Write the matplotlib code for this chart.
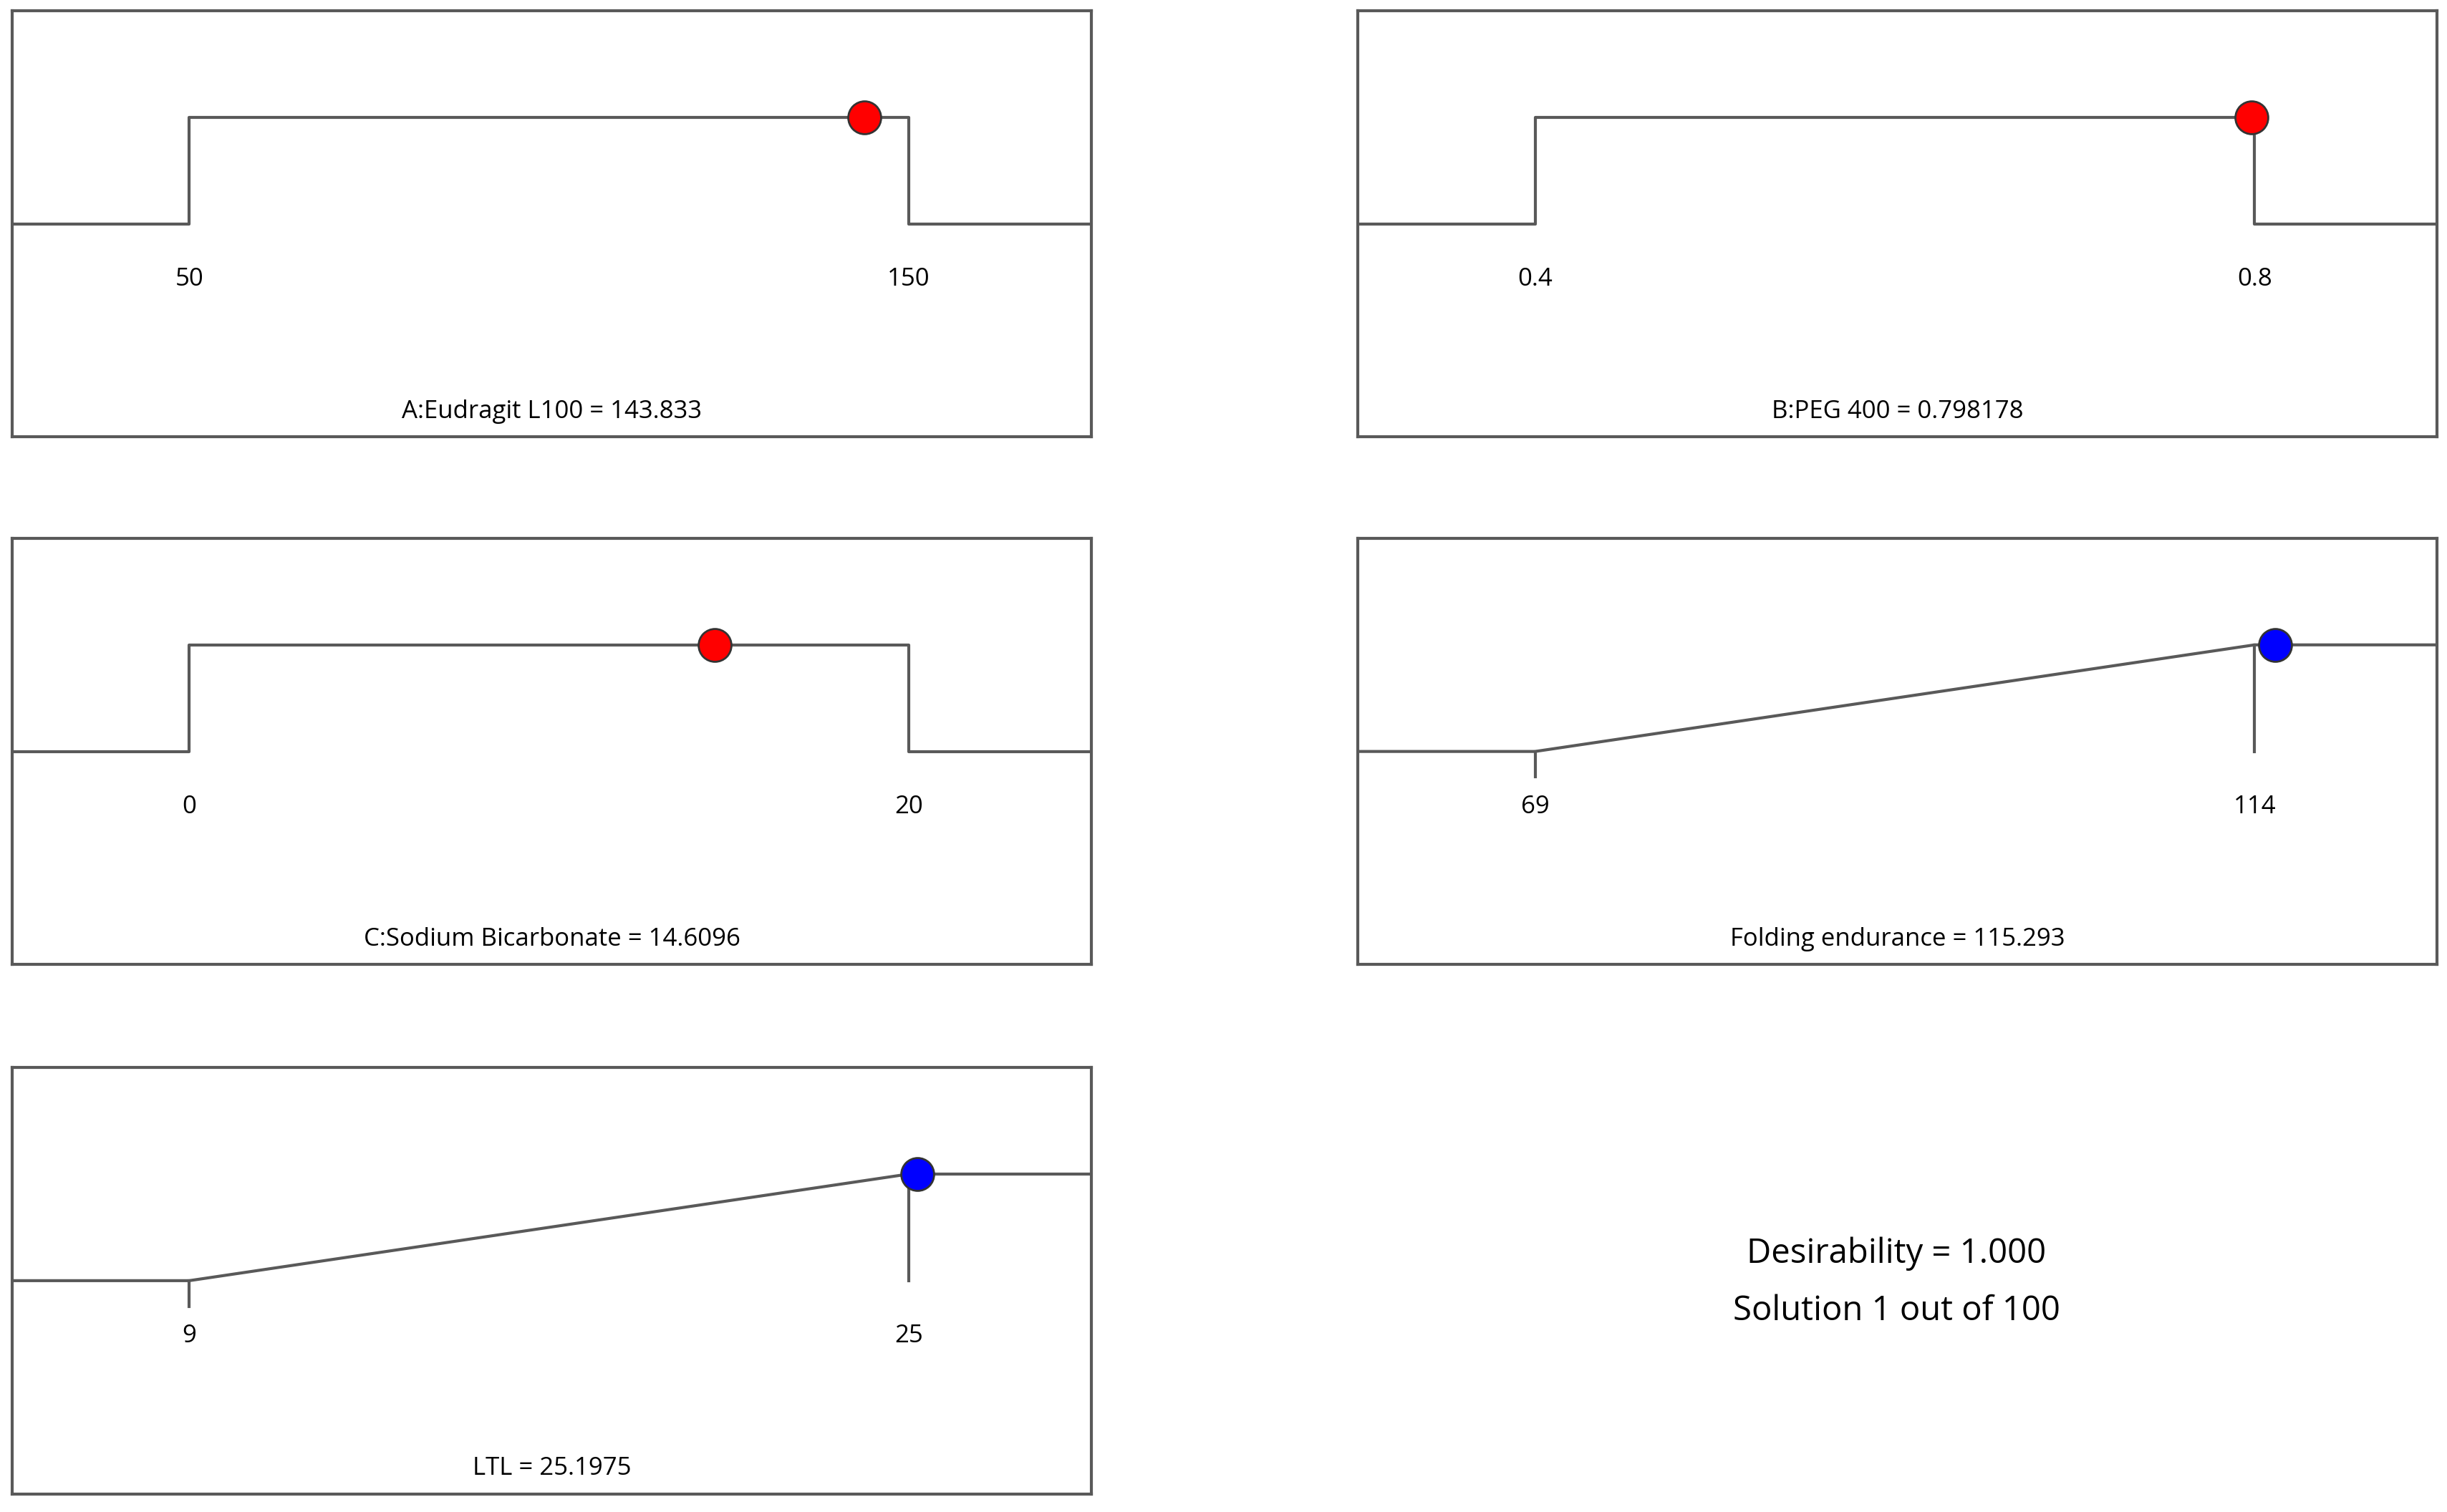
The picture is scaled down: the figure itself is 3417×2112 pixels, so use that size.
import matplotlib
matplotlib.use('Agg')
import matplotlib.pyplot as plt

plt.rcParams['font.family'] = ['Open Sans', 'DejaVu Sans']

# factors: name, low, high, value, tick labels
factor_names = ['A:Eudragit L100', 'B:PEG 400', 'C:Sodium Bicarbonate']
factor_lo = [50, 0.4, 0]
factor_hi = [150, 0.8, 20]
factor_val = [143.833, 0.798178, 14.6096]
factor_ticks = [['50', '150'], ['0.4', '0.8'], ['0', '20']]
factor_valtxt = ['143.833', '0.798178', '14.6096']

# responses (maximize)
resp_names = ['Folding endurance', 'LTL']
resp_lo = [69, 9]
resp_hi = [114, 25]
resp_val = [115.293, 25.1975]
resp_ticks = [['69', '114'], ['9', '25']]
resp_valtxt = ['115.293', '25.1975']

desirability = '1.000'
solution_txt = 'Solution 1 out of 100'

LC = '#595959'
LW = 3
FS = 25

fig = plt.figure(figsize=(34.17, 21.12), dpi=100)
cols = [(0.005, 0.441), (0.555, 0.441)]
rows = [0.711, 0.362, 0.012]
H = 0.282
slots = [(0, 0), (0, 1), (1, 0), (1, 1), (2, 0)]


def make_ax(r, c):
    ax = fig.add_axes([cols[c][0], rows[r], cols[c][1], H])
    ax.set_xticks([])
    ax.set_yticks([])
    for s in ax.spines.values():
        s.set_color(LC)
        s.set_linewidth(LW)
    ax.set_ylim(0, 1)
    return ax


def setup_x(ax, lo, hi):
    span = hi - lo
    x0, x1 = lo - 0.246 * span, hi + 0.254 * span
    ax.set_xlim(x0, x1)
    return x0, x1


def labels(ax, lo, hi, ticks, title):
    ax.text(lo, 0.37, ticks[0], ha='center', va='center', fontsize=FS)
    ax.text(hi, 0.37, ticks[1], ha='center', va='center', fontsize=FS)
    ax.text(0.5, 0.06, title, transform=ax.transAxes, ha='center', va='center', fontsize=FS)


for i in range(3):
    r, c = slots[i]
    ax = make_ax(r, c)
    lo, hi = factor_lo[i], factor_hi[i]
    x0, x1 = setup_x(ax, lo, hi)
    ax.plot([x0, lo, lo, hi, hi, x1], [0.5, 0.5, 0.75, 0.75, 0.5, 0.5], color=LC, lw=LW, zorder=2)
    ax.plot(factor_val[i], 0.75, 'o', ms=33, mfc='red', mec='#333333', mew=2, zorder=3, clip_on=False)
    labels(ax, lo, hi, factor_ticks[i], f'{factor_names[i]} = {factor_valtxt[i]}')

for j in range(2):
    r, c = slots[3 + j]
    ax = make_ax(r, c)
    lo, hi = resp_lo[j], resp_hi[j]
    x0, x1 = setup_x(ax, lo, hi)
    ax.plot([x0, lo, hi, x1], [0.5, 0.5, 0.75, 0.75], color=LC, lw=LW, zorder=2)
    ax.plot([lo, lo], [0.5, 0.44], color=LC, lw=LW)
    ax.plot([hi, hi], [0.75, 0.5], color=LC, lw=LW)
    v = resp_val[j]
    yv = 0.75 if v >= hi else 0.5 + 0.25 * (v - lo) / (hi - lo)
    ax.plot(v, yv, 'o', ms=33, mfc='blue', mec='#333333', mew=2, zorder=3, clip_on=False)
    labels(ax, lo, hi, resp_ticks[j], f'{resp_names[j]} = {resp_valtxt[j]}')

fig.text(0.775, 0.171, f'Desirability = {desirability}', ha='center', va='center', fontsize=34)
fig.text(0.775, 0.133, solution_txt, ha='center', va='center', fontsize=34)

fig.savefig('out.png', dpi=100)
